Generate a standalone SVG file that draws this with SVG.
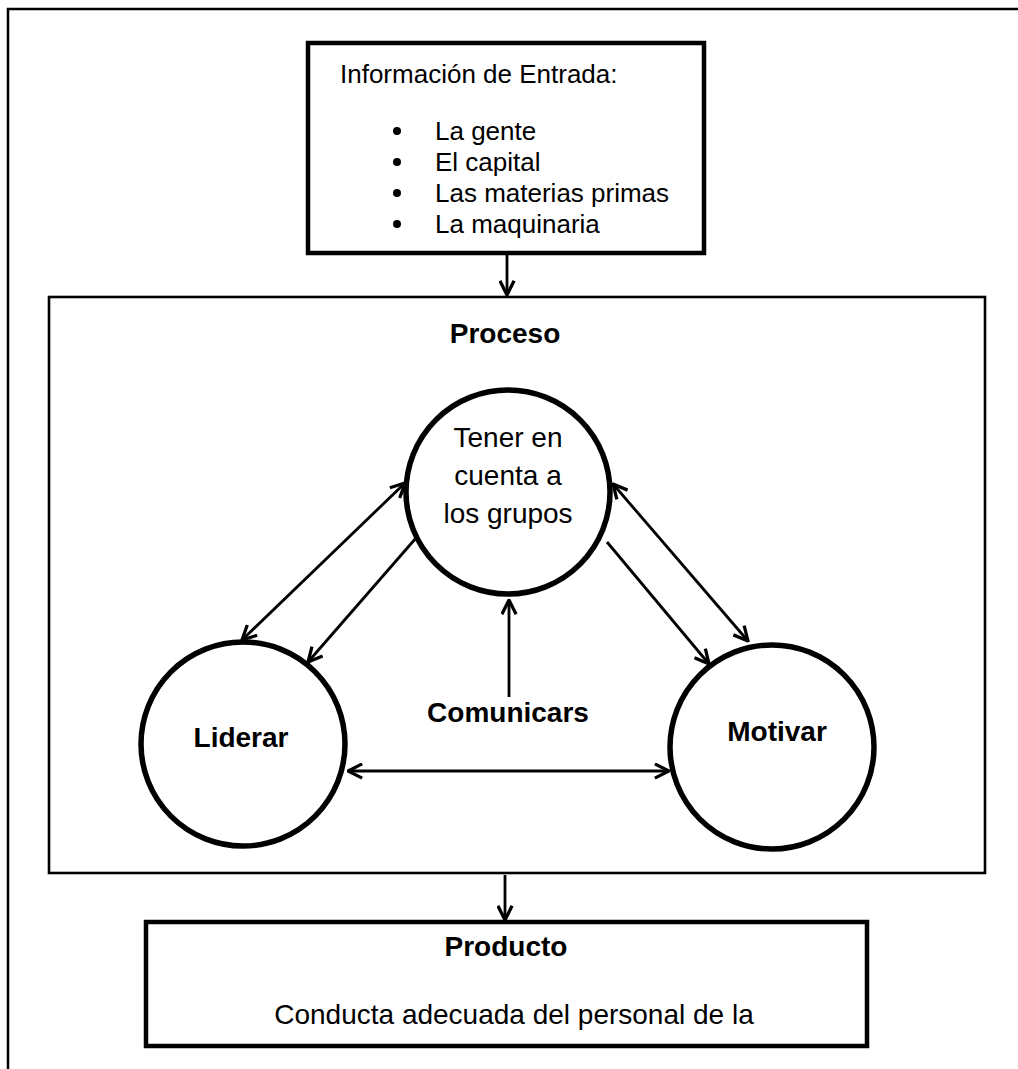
<svg xmlns="http://www.w3.org/2000/svg" width="1018" height="1069" viewBox="0 0 1018 1069">
  <style>
    text { font-family: "Liberation Sans", Arial, sans-serif; fill: #000; }
    .reg { font-size: 26px; }
    .big { font-size: 28px; }
    .bold { font-size: 28px; font-weight: bold; }
    .thick { fill: #fff; stroke: #000; stroke-width: 4.5; }
    .thin { fill: #fff; stroke: #000; stroke-width: 2.6; }
    .circ { fill: #fff; stroke: #000; stroke-width: 5.5; }
    .conn { fill: none; stroke: #000; stroke-width: 2.8; }
  </style>
  <defs>
    <marker id="arr" viewBox="0 0 12 12" refX="11" refY="6" markerUnits="userSpaceOnUse" markerWidth="17" markerHeight="17" orient="auto-start-reverse">
      <path d="M1,1 L11,6 L1,11" fill="none" stroke="#000" stroke-width="2.3"/>
    </marker>
  </defs>

  <rect width="1018" height="1069" fill="#fff"/>

  <!-- page frame: top and left rules -->
  <path d="M8,1069 L8,9 L1018,9" fill="none" stroke="#000" stroke-width="2.5"/>

  <!-- input box -->
  <g id="entrada">
    <rect class="thick" x="308" y="43" width="396" height="210"/>
    <text class="reg" x="340" y="83">Información de Entrada:</text>
    <g class="reg">
      <circle cx="397" cy="131" r="4"/>
      <text x="435" y="140">La gente</text>
      <circle cx="397" cy="162" r="4"/>
      <text x="435" y="171">El capital</text>
      <circle cx="397" cy="193" r="4"/>
      <text x="435" y="202">Las materias primas</text>
      <circle cx="397" cy="224" r="4"/>
      <text x="435" y="233">La maquinaria</text>
    </g>
  </g>

  <!-- process frame -->
  <g id="proceso">
    <rect class="thin" x="49" y="297" width="936" height="576"/>
    <text class="bold" x="505" y="343" text-anchor="middle">Proceso</text>
  </g>

  <g id="grupos">
    <circle class="circ" cx="508" cy="492" r="102"/>
    <text class="big" x="508" y="447" text-anchor="middle">Tener en</text>
    <text class="big" x="508" y="485" text-anchor="middle">cuenta a</text>
    <text class="big" x="508" y="523" text-anchor="middle">los grupos</text>
  </g>

  <g id="liderar">
    <circle class="circ" cx="243" cy="744" r="102"/>
    <text class="bold" x="241" y="747" text-anchor="middle">Liderar</text>
  </g>

  <g id="motivar">
    <circle class="circ" cx="772" cy="747" r="102"/>
    <text class="bold" x="777" y="741" text-anchor="middle">Motivar</text>
  </g>

  <g id="comunicars">
    <text class="bold" x="508" y="722" text-anchor="middle">Comunicars</text>
  </g>

  <!-- output box -->
  <g id="producto">
    <rect class="thick" x="146" y="922" width="721" height="124"/>
    <text class="bold" x="506" y="956" text-anchor="middle">Producto</text>
    <text class="big" x="514" y="1024" text-anchor="middle">Conducta adecuada del personal de la</text>
  </g>

  <!-- connectors -->
  <g id="connectors" class="conn">
    <path d="M507,255 L507,295" marker-end="url(#arr)"/>
    <path d="M505,875 L505,920" marker-end="url(#arr)"/>
    <path d="M509,697 L509,600" marker-end="url(#arr)"/>
    <path d="M348,771 L669,771" marker-start="url(#arr)" marker-end="url(#arr)"/>
    <path d="M405,483 L242,640" marker-start="url(#arr)" marker-end="url(#arr)"/>
    <path d="M416,538 L308,662" marker-end="url(#arr)"/>
    <path d="M613,484 L748,641" marker-start="url(#arr)" marker-end="url(#arr)"/>
    <path d="M607,542 L709,664" marker-end="url(#arr)"/>
  </g>
</svg>
